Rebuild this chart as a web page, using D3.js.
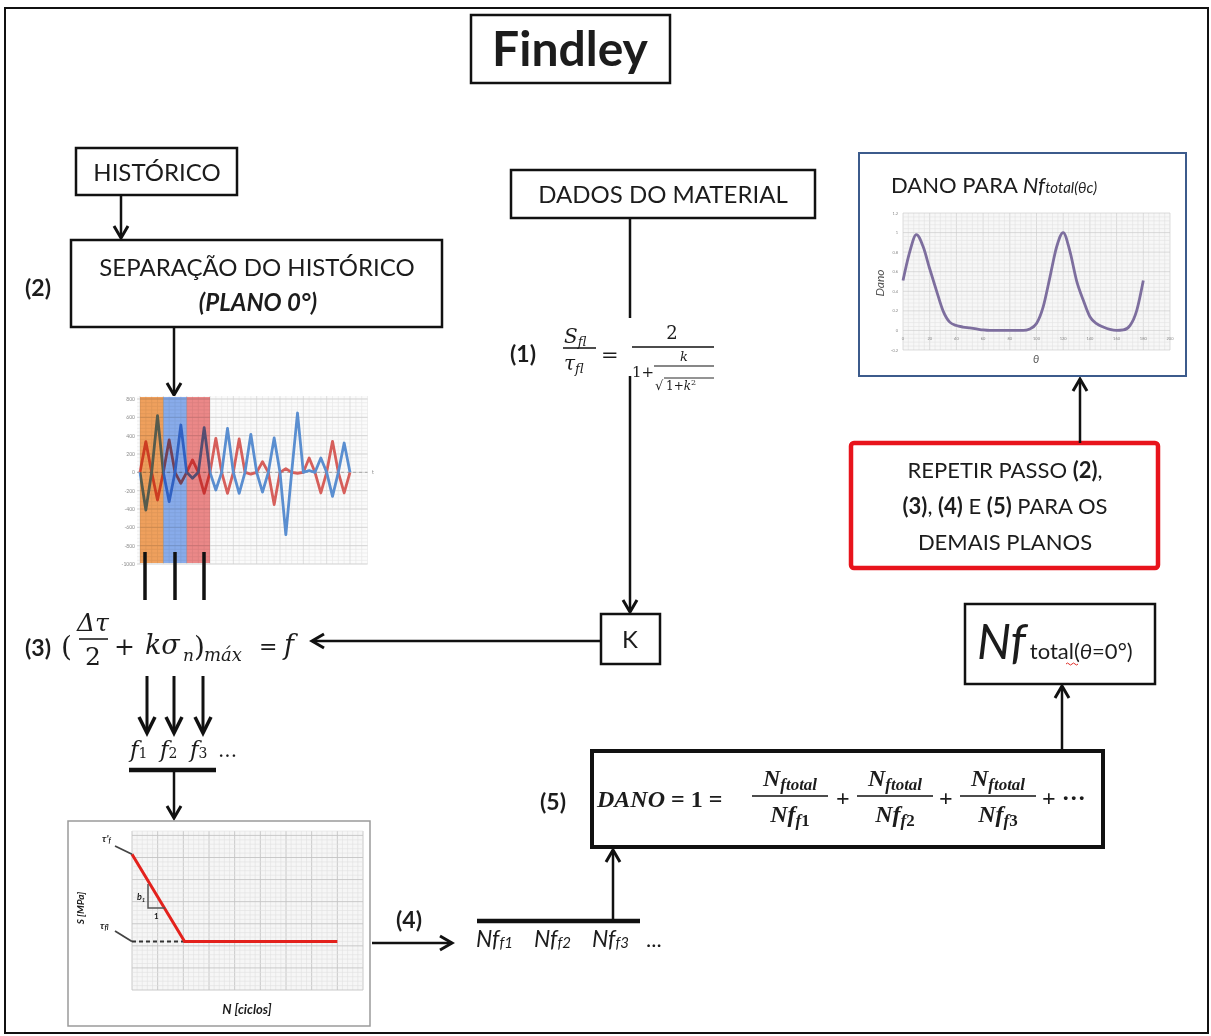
<!DOCTYPE html>
<html>
<head>
<meta charset="utf-8">
<script src="https://cdn.jsdelivr.net/npm/d3@7"></script>
<style>
  body { margin: 0; background: #fff; }
  svg { display: block; }
  text { font-family: Lato, "Open Sans", sans-serif; fill: #1c1c1c; }
  .math { font-family: "DejaVu Serif", "Liberation Serif", serif; }
  .mathb { font-family: "Liberation Serif", "DejaVu Serif", serif; }
</style>
</head>
<body>
<svg id="chart" width="1211" height="1036"></svg>
<script>
// ---- stress history on plane 0° (two shear components, alternating peaks) ----
const historyBlue = [0, -411, 0, 618, 0, -320, 0, 516, 0, -65, 0, 487, 0, -193, 0, 480, 0, -229, 0,
                     415, 0, -215, 0, 375, 0, -680, 0, 647, 0, 20, 0, 156, 0, -262, 0, 320, 0];
const historyRed  = [0, 335, 0, -302, 0, 353, 0, -120, 0, 135, 0, -229, 0, 371, 0, -229, 0, 364, 0,
                     -20, 0, 115, 0, -352, 0, 40, 0, -10, 0, 156, 0, -225, 0, 338, 0, -225, 0];
const historyTicks = [800, 600, 400, 200, 0, -200, -400, -600, -800, -1000];
const historyBandEdges = [0, 4, 8, 12];
const historyBandColors = ["#f3a35e", "#8aaeee", "#ef8a8a"];

// ---- damage versus plane angle ----
const damageTheta = [0, 5, 10, 15, 20, 25, 30, 35, 40, 45, 50, 55, 60, 65, 70, 75, 80, 85, 90,
                     95, 100, 105, 110, 115, 120, 125, 130, 135, 140, 145, 150, 155, 160, 165, 170, 175, 180];
const damageValue = [0.51, 0.80, 0.98, 0.86, 0.63, 0.41, 0.20, 0.085, 0.05, 0.035, 0.025, 0.015, 0.005, 0, 0, 0, 0, 0, 0,
                     0.015, 0.07, 0.24, 0.54, 0.85, 1.0, 0.81, 0.51, 0.31, 0.14, 0.07, 0.035, 0.01, 0, 0.005, 0.05, 0.2, 0.51];
const damageYTicks = [1.2, 1, 0.8, 0.6, 0.4, 0.2, 0, -0.2];
const damageXTicks = [0, 20, 40, 60, 80, 100, 120, 140, 160, 180, 200];

// ---- S-N curve (schematic, grid units) ----
const snCycles = [0, 2.05, 8];
const snStress = [6.15, 2.2, 2.2];

const svg = d3.select("#chart");
svg.append("rect").attr("width", 1211).attr("height", 1036).attr("fill", "#fff");

// ---------- helpers ----------
function box(x, y, w, h, opt = {}) {
  return svg.append("rect").attr("x", x).attr("y", y).attr("width", w).attr("height", h)
    .attr("rx", opt.rx || 0).attr("fill", opt.fill || "#fff")
    .attr("stroke", opt.stroke || "#111").attr("stroke-width", opt.sw || 2.5);
}
function text(x, y, str, opt = {}) {
  const t = svg.append("text").attr("x", x).attr("y", y)
    .attr("font-size", opt.size || 24)
    .attr("text-anchor", opt.anchor || "start")
    .attr("font-weight", opt.weight || "normal")
    .attr("font-style", opt.style || "normal");
  if (opt.cls) t.attr("class", opt.cls);
  if (str !== null) t.text(str);
  return t;
}
function span(t, str, opt = {}) {
  const s = t.append("tspan").text(str);
  if (opt.size) s.attr("font-size", opt.size);
  if (opt.weight) s.attr("font-weight", opt.weight);
  if (opt.style) s.attr("font-style", opt.style);
  if (opt.dy !== undefined) s.attr("dy", opt.dy);
  if (opt.dx !== undefined) s.attr("dx", opt.dx);
  if (opt.fill) s.attr("fill", opt.fill);
  return s;
}
function line(pts, sw = 2.5, color = "#111") {
  return svg.append("path").attr("d", d3.line()(pts)).attr("fill", "none")
    .attr("stroke", color).attr("stroke-width", sw);
}
function arrow(pts, sw = 2.5, L = 12, W = 7) {
  line(pts, sw);
  const [x1, y1] = pts[pts.length - 2], [x2, y2] = pts[pts.length - 1];
  const len = Math.hypot(x2 - x1, y2 - y1), dx = (x2 - x1) / len, dy = (y2 - y1) / len;
  const nx = -dy, ny = dx;
  const a = [x2 - dx * L + nx * W, y2 - dy * L + ny * W];
  const b = [x2 - dx * L - nx * W, y2 - dy * L - ny * W];
  svg.append("path").attr("d", d3.line()([a, [x2, y2], b])).attr("fill", "none")
    .attr("stroke", "#111").attr("stroke-width", sw + 0.5).attr("stroke-linejoin", "miter");
}

// ---------- outer frame ----------
svg.append("rect").attr("x", 5).attr("y", 8).attr("width", 1203).attr("height", 1025)
  .attr("fill", "none").attr("stroke", "#111").attr("stroke-width", 2);

// ---------- title ----------
box(471, 15, 199, 68);
text(570, 66, "Findley", { size: 48, weight: "bold", anchor: "middle" });

// ---------- left column ----------
box(76, 148, 161, 47);
text(157, 181, "HISTÓRICO", { size: 24, anchor: "middle" });
arrow([[121, 195], [121, 238]]);

box(71, 240, 371, 87);
text(257, 276, "SEPARAÇÃO DO HISTÓRICO", { size: 24, anchor: "middle" });
text(258, 311, "(PLANO 0°)", { size: 24, anchor: "middle", weight: "bold", style: "italic" });
text(25, 296, "(2)", { size: 23, weight: "bold" });
arrow([[174, 327], [174, 395]]);

// ---------- stress history chart ----------
{
  const sx = d3.scaleLinear().domain([0, 39]).range([140, 367.5]);
  const sy = d3.scaleLinear().domain([-1000, 800]).range([564, 399]);
  const g = svg.append("g");
  const x0 = sx(-0.5), x1 = sx(39);
  g.append("rect").attr("x", x0).attr("y", sy(800) - 3).attr("width", x1 - x0)
    .attr("height", sy(-1000) - sy(800) + 3).attr("fill", "#fbfbfb");
  g.selectAll(".hmin").data(d3.range(-1000, 801, 40)).join("line")
    .attr("x1", x0).attr("x2", x1).attr("y1", d => sy(d)).attr("y2", d => sy(d))
    .attr("stroke", "#e6e6e6").attr("stroke-width", 0.6);
  g.selectAll(".vmin").data(d3.range(0, 40, 1)).join("line")
    .attr("x1", d => sx(d)).attr("x2", d => sx(d)).attr("y1", sy(800) - 3).attr("y2", sy(-1000))
    .attr("stroke", d => d % 4 === 0 ? "#d2d2d2" : "#e8e8e8").attr("stroke-width", 0.7);
  g.selectAll(".hmaj").data(historyTicks).join("line")
    .attr("x1", x0).attr("x2", x1).attr("y1", d => sy(d)).attr("y2", d => sy(d))
    .attr("stroke", "#cfcfcf").attr("stroke-width", 0.8);
  g.append("line").attr("x1", x0).attr("x2", x1).attr("y1", sy(0)).attr("y2", sy(0))
    .attr("stroke", "#a8a8a8").attr("stroke-width", 1).attr("stroke-dasharray", "3,3");
  g.selectAll(".tl").data(historyTicks).join("text")
    .attr("x", 135).attr("y", d => sy(d) + 2).attr("text-anchor", "end")
    .attr("font-size", 5).style("fill", "#8a8a8a").text(d => d);
  g.append("text").attr("x", 372).attr("y", sy(0) + 2).attr("font-size", 5)
    .style("fill", "#8a8a8a").text("t");

  const ln = d3.line().x((d, i) => sx(i)).y(d => sy(d));
  g.append("path").attr("d", ln(historyRed)).attr("fill", "none")
    .attr("stroke", "#d65f5b").attr("stroke-width", 2.8).attr("stroke-linejoin", "round");
  g.append("path").attr("d", ln(historyBlue)).attr("fill", "none")
    .attr("stroke", "#5a8ed0").attr("stroke-width", 2.8).attr("stroke-linejoin", "round");

  historyBandColors.forEach((c, i) => {
    g.append("rect").attr("x", sx(historyBandEdges[i])).attr("y", 397)
      .attr("width", sx(historyBandEdges[i + 1]) - sx(historyBandEdges[i])).attr("height", 166)
      .attr("fill", c).style("mix-blend-mode", "multiply");
  });
}
// cycle separators down to the Findley parameter
[145, 175, 204].forEach(x => line([[x, 552], [x, 600]], 3.5));

// ---------- step (3) ----------
text(25, 656, "(3)", { size: 23, weight: "bold" });
text(61, 656, "(", { size: 28, cls: "math" });
text(93, 631, "Δτ", { size: 25, anchor: "middle", cls: "math", style: "italic" });
line([[79, 639], [108, 639]], 1.5);
text(93, 665, "2", { size: 25, anchor: "middle", cls: "math" });
text(114, 655, "+", { size: 25, cls: "math" });
text(145, 654, "kσ", { size: 27, cls: "math", style: "italic" });
text(183, 661, "n", { size: 17, cls: "math", style: "italic" });
text(194, 656, ")", { size: 28, cls: "math" });
text(204, 661, "máx", { size: 18, cls: "math", style: "italic" });
text(259, 654, "=", { size: 22, cls: "math" });
text(284, 654, "f", { size: 27, cls: "math", style: "italic" });

[147, 174, 203].forEach(x => arrow([[x, 676], [x, 733]], 3, 16, 8));
[["1", 130], ["2", 160], ["3", 190]].forEach(([n, x]) => {
  const t = text(x, 757, null, { size: 23, cls: "math", style: "italic" });
  span(t, "f"); span(t, n, { size: 14, style: "normal", dy: 1 });
});
text(218, 757, "...", { size: 20, cls: "math" });
line([[129, 770], [216, 770]], 4.5);
arrow([[174, 770], [174, 818]], 2.5);

// ---------- S-N curve chart ----------
{
  svg.append("rect").attr("x", 68).attr("y", 821).attr("width", 302).attr("height", 205)
    .attr("fill", "#fff").attr("stroke", "#9a9a9a").attr("stroke-width", 1.5);
  const nx = d3.scaleLinear().domain([0, 9]).range([132, 363]);
  const ny = d3.scaleLinear().domain([0, 7.2]).range([990, 831]);
  const g = svg.append("g");
  g.append("rect").attr("x", 132).attr("y", 831).attr("width", 231).attr("height", 159).attr("fill", "#f6f6f6");
  g.selectAll(".vm").data(d3.range(0, 9.01, 0.2)).join("line")
    .attr("x1", d => nx(d)).attr("x2", d => nx(d)).attr("y1", 831).attr("y2", 990)
    .attr("stroke", (d, i) => i % 5 === 0 ? "#c4c4c4" : "#e0e0e0").attr("stroke-width", (d, i) => i % 5 === 0 ? 0.9 : 0.6);
  g.selectAll(".hm").data(d3.range(0, 7.21, 0.2)).join("line")
    .attr("x1", 132).attr("x2", 363).attr("y1", d => ny(d)).attr("y2", d => ny(d))
    .attr("stroke", (d, i) => i % 5 === 0 ? "#c4c4c4" : "#e0e0e0").attr("stroke-width", (d, i) => i % 5 === 0 ? 0.9 : 0.6);

  // endurance limit extension
  g.append("line").attr("x1", nx(snCycles[0])).attr("x2", nx(snCycles[1]))
    .attr("y1", ny(snStress[2])).attr("y2", ny(snStress[2]))
    .attr("stroke", "#333").attr("stroke-width", 2).attr("stroke-dasharray", "4,3");
  const ln = d3.line().x((d, i) => nx(snCycles[i])).y(d => ny(d));
  g.append("path").attr("d", ln(snStress)).attr("fill", "none")
    .attr("stroke", "#e3211c").attr("stroke-width", 3);

  // slope triangle
  g.append("path").attr("d", d3.line()([[148, 884], [148, 908], [165, 908]]))
    .attr("fill", "none").attr("stroke", "#555").attr("stroke-width", 1.5);
  g.append("text").attr("x", 137).attr("y", 900).attr("font-size", 9).attr("font-weight", "bold")
    .attr("font-style", "italic").text("b").append("tspan").attr("font-size", 6).attr("dy", 2).text("1");
  g.append("text").attr("x", 154).attr("y", 919).attr("font-size", 8).attr("font-weight", "bold").text("1");

  // leaders and labels
  g.append("path").attr("d", d3.line()([[115, 846], [nx(snCycles[0]), ny(snStress[0])]]))
    .attr("stroke", "#444").attr("stroke-width", 1.8).attr("fill", "none");
  g.append("path").attr("d", d3.line()([[115, 931], [nx(snCycles[0]), ny(snStress[2])]]))
    .attr("stroke", "#444").attr("stroke-width", 1.8).attr("fill", "none");
  const tf = g.append("text").attr("x", 102).attr("y", 842).attr("font-size", 10)
    .attr("font-weight", "bold").attr("font-style", "italic");
  tf.append("tspan").text("τ'"); tf.append("tspan").attr("font-size", 7).attr("dy", 1).text("f");
  const tl = g.append("text").attr("x", 100).attr("y", 929).attr("font-size", 10)
    .attr("font-weight", "bold").attr("font-style", "italic");
  tl.append("tspan").text("τ"); tl.append("tspan").attr("font-size", 7).attr("dy", 1).text("fl");

  g.append("text").attr("transform", "translate(84,908) rotate(-90)").attr("text-anchor", "middle")
    .attr("font-size", 10).attr("font-weight", "bold").attr("font-style", "italic").text("S [MPa]");
  g.append("text").attr("x", 247).attr("y", 1014).attr("text-anchor", "middle")
    .attr("font-size", 13).attr("font-weight", "bold").attr("font-style", "italic").text("N [ciclos]");
}

// ---------- step (4) ----------
arrow([[372, 943], [452, 943]], 2.5);
text(396, 928, "(4)", { size: 23, weight: "bold" });
line([[477, 921], [640, 921]], 4.5);
[["1", 476], ["2", 534], ["3", 592]].forEach(([n, x]) => {
  const t = text(x, 947, null, { size: 23, style: "italic" });
  span(t, "Nf"); span(t, "f" + n, { size: 15, dy: 1 });
});
text(646, 947, "...", { size: 22 });
arrow([[613, 921], [613, 850]], 2.5);

// ---------- material data and step (1) ----------
box(511, 170, 304, 48);
text(663, 203, "DADOS DO MATERIAL", { size: 24, anchor: "middle" });
line([[630, 218], [630, 318]], 2.5);
text(510, 362, "(1)", { size: 23, weight: "bold" });
{
  const s1 = text(564, 343, null, { size: 20, cls: "math", style: "italic" });
  span(s1, "S"); span(s1, "fl", { size: 13, dy: 3 });
  line([[563, 348], [596, 348]], 1.3);
  const s2 = text(564, 370, null, { size: 20, cls: "math", style: "italic" });
  span(s2, "τ"); span(s2, "fl", { size: 13, dy: 3 });
  text(601, 362, "=", { size: 21, cls: "math" });
  text(672, 339, "2", { size: 18, cls: "math", anchor: "middle" });
  line([[632, 347], [714, 347]], 1.3);
  text(632, 377, "1+", { size: 15, cls: "math" });
  text(684, 361, "k", { size: 13, cls: "math", style: "italic", anchor: "middle" });
  line([[654, 366], [714, 366]], 1.1);
  text(655, 390, "√", { size: 13, cls: "math" });
  line([[664, 378], [714, 378]], 0.9);
  const r = text(666, 390, null, { size: 12, cls: "math" });
  span(r, "1+"); span(r, "k", { style: "italic" }); span(r, "2", { size: 8, dy: -5 });
}
arrow([[630, 376], [630, 612]], 2.5);

box(601, 614, 59, 50);
text(630, 648, "K", { size: 24, anchor: "middle" });
arrow([[601, 641], [312, 641]], 2.5);

// ---------- step (5) ----------
text(540, 810, "(5)", { size: 23, weight: "bold" });
box(592, 751, 511, 96, { sw: 4 });
{
  const d = text(597, 807, null, { size: 24, cls: "mathb", weight: "bold" });
  span(d, "DANO", { style: "italic" }); span(d, " = 1 = ");
  [790, 895, 998].forEach((cx, i) => {
    const n = text(cx, 786, null, { size: 24, cls: "mathb", weight: "bold", style: "italic", anchor: "middle" });
    span(n, "N"); span(n, "ftotal", { size: 17, dy: 4 });
    line([[cx - 38, 796], [cx + 38, 796]], 1.6);
    const m = text(cx, 822, null, { size: 24, cls: "mathb", weight: "bold", style: "italic", anchor: "middle" });
    span(m, "Nf"); span(m, "f", { size: 17, dy: 4 }); span(m, String(i + 1), { size: 17, style: "normal" });
  });
  text(836, 806, "+", { size: 24, cls: "mathb", weight: "bold" });
  text(939, 806, "+", { size: 24, cls: "mathb", weight: "bold" });
  text(1042, 806, "+ ···", { size: 24, cls: "mathb", weight: "bold" });
}
arrow([[1062, 751], [1062, 686]], 2.5);

// ---------- total life at 0° ----------
box(965, 604, 190, 80);
{
  const t = text(977, 659, null, { size: 48, style: "italic" });
  span(t, "Nf"); span(t, "total(", { size: 22, style: "normal", dx: 4 });
  span(t, "θ", { size: 22, style: "italic" }); span(t, "=0°)", { size: 22, style: "normal" });
  svg.append("path").attr("d", "M1066,664 q1.5,-2 3,0 t3,0 t3,0 t3,0")
    .attr("fill", "none").attr("stroke", "#e0302a").attr("stroke-width", 1);
}

// ---------- repeat for other planes ----------
box(851, 443, 307, 125, { stroke: "#e8141c", sw: 4.5, rx: 3 });
{
  const l1 = text(1005, 478, null, { size: 22, anchor: "middle" });
  span(l1, "REPETIR PASSO "); span(l1, "(2)", { weight: "bold" }); span(l1, ",");
  const l2 = text(1005, 514, null, { size: 22, anchor: "middle" });
  span(l2, "(3)", { weight: "bold" }); span(l2, ", "); span(l2, "(4)", { weight: "bold" });
  span(l2, " E "); span(l2, "(5)", { weight: "bold" }); span(l2, " PARA OS");
  text(1005, 550, "DEMAIS PLANOS", { size: 22, anchor: "middle" });
}
arrow([[1080, 443], [1080, 379]], 2.5);

// ---------- damage versus angle chart ----------
box(859, 153, 327, 223, { stroke: "#3c5b8c", sw: 2 });
{
  const t = text(891, 193, null, { size: 22 });
  span(t, "DANO PARA "); span(t, "Nf", { style: "italic" }); span(t, "total(θc)", { size: 15, style: "italic" });

  const dx = d3.scaleLinear().domain([0, 200]).range([903, 1170]);
  const dy = d3.scaleLinear().domain([-0.2, 1.2]).range([350, 213]);
  const g = svg.append("g");
  g.append("rect").attr("x", 903).attr("y", 213).attr("width", 267).attr("height", 137).attr("fill", "#f7f7f7");
  g.selectAll(".vm").data(d3.range(0, 200.1, 4)).join("line")
    .attr("x1", d => dx(d)).attr("x2", d => dx(d)).attr("y1", 213).attr("y2", 350)
    .attr("stroke", (d, i) => i % 5 === 0 ? "#c8c8c8" : "#e2e2e2").attr("stroke-width", 0.6);
  g.selectAll(".hm").data(d3.range(-0.2, 1.2001, 0.04)).join("line")
    .attr("x1", 903).attr("x2", 1170).attr("y1", d => dy(d)).attr("y2", d => dy(d))
    .attr("stroke", (d, i) => i % 5 === 0 ? "#c8c8c8" : "#e2e2e2").attr("stroke-width", 0.6);
  g.selectAll(".yl").data(damageYTicks).join("text")
    .attr("x", 898).attr("y", d => dy(d) + 1.5).attr("text-anchor", "end")
    .attr("font-size", 4).style("fill", "#888").text(d => d);
  g.selectAll(".xl").data(damageXTicks).join("text")
    .attr("x", d => dx(d)).attr("y", 340).attr("text-anchor", "middle")
    .attr("font-size", 4).style("fill", "#888").text(d => d);
  g.append("path")
    .attr("d", d3.line().x((d, i) => dx(damageTheta[i])).y(d => dy(d)).curve(d3.curveMonotoneX)(damageValue))
    .attr("fill", "none").attr("stroke", "#7d6e9e").attr("stroke-width", 2.8);
  g.append("text").attr("transform", "translate(884,283) rotate(-90)").attr("text-anchor", "middle")
    .attr("font-size", 12).attr("font-style", "italic").style("fill", "#555").text("Dano");
  g.append("text").attr("x", 1036).attr("y", 363).attr("text-anchor", "middle")
    .attr("font-size", 11).attr("font-style", "italic").style("fill", "#555").text("θ");
}
</script>
</body>
</html>
